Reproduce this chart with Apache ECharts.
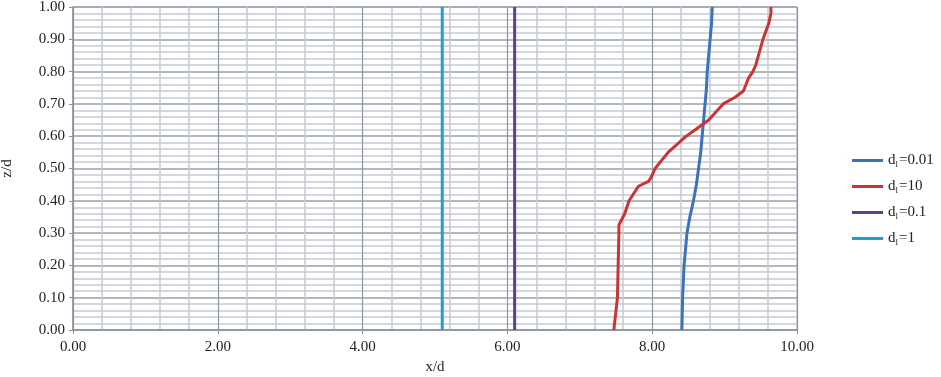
<!DOCTYPE html>
<html>
<head>
<meta charset="utf-8">
<script src="https://cdn.jsdelivr.net/npm/echarts@6/dist/echarts.min.js"></script>
<style>
  html, body { margin: 0; padding: 0; background: #fff; }
  #chart { width: 941px; height: 377px; }
</style>
</head>
<body>
<div id="chart"></div>
<script>
// series labels (subscript part kept separately)
const seriesValues = ['0.01', '10', '0.1', '1'];
const seriesColors = ['#3a73ba', '#cc3333', '#5c3f8e', '#1e9fc9'];

// d=0.01 profile (x/d, z/d)
const x001 = [8.41, 8.42, 8.44, 8.46, 8.48, 8.52, 8.57, 8.61, 8.64, 8.67, 8.69, 8.71, 8.73, 8.75, 8.76, 8.78, 8.80, 8.82, 8.83];
const z001 = [0.00, 0.10, 0.20, 0.25, 0.30, 0.35, 0.40, 0.45, 0.50, 0.55, 0.60, 0.65, 0.70, 0.75, 0.80, 0.85, 0.90, 0.95, 1.00];

// d=10 profile
const x10 = [7.47, 7.52, 7.53, 7.54, 7.54, 7.62, 7.68, 7.81, 7.95, 7.99, 8.04, 8.22, 8.47, 8.78, 8.98, 9.14, 9.26, 9.33, 9.39, 9.43, 9.53, 9.61, 9.64, 9.64];
const z10 = [0.00, 0.10, 0.20, 0.30, 0.325, 0.36, 0.40, 0.445, 0.46, 0.475, 0.50, 0.55, 0.60, 0.65, 0.70, 0.72, 0.74, 0.78, 0.80, 0.82, 0.90, 0.95, 0.98, 1.00];

// d=0.1 and d=1 are straight vertical lines
const x01 = [6.10, 6.10];
const z01 = [0.00, 1.00];
const x1 = [5.10, 5.10];
const z1 = [0.00, 1.00];

const xs = [x001, x10, x01, x1];
const zs = [z001, z10, z01, z1];

const font = 'Liberation Serif';
const names = seriesValues.map(v => 'd=' + v);

const chart = echarts.init(document.getElementById('chart'));

chart.setOption({
  animation: false,
  grid: {
    left: 73,
    right: 144,
    top: 7,
    bottom: 47,
    containLabel: false,
    outerBoundsMode: 'none',
    show: true,
    borderColor: '#9aa1aa',
    borderWidth: 1
  },
  legend: {
    orient: 'vertical',
    left: 847,
    top: 148,
    itemGap: 10,
    itemWidth: 31,
    itemHeight: 3,
    icon: 'rect',
    data: names,
    formatter: name => '{d|d}{s|l}{d|' + name.slice(1) + '}',
    textStyle: {
      rich: {
        d: { fontFamily: font, fontSize: 15, color: '#222' },
        s: { fontFamily: font, fontSize: 9, color: '#222', verticalAlign: 'bottom', padding: [8, 1, 0, 0] }
      }
    }
  },
  xAxis: {
    type: 'value',
    min: 0,
    max: 10,
    interval: 2,
    name: 'x/d',
    nameLocation: 'middle',
    nameGap: 30,
    nameTextStyle: { fontFamily: font, fontSize: 15, color: '#222' },
    axisLine: { show: true, lineStyle: { color: '#8a929c', width: 1.5 } },
    axisTick: { show: true, length: 4, lineStyle: { color: '#8a929c' } },
    axisLabel: {
      fontFamily: font,
      fontSize: 15,
      color: '#222',
      margin: 10,
      formatter: v => v.toFixed(2)
    },
    splitLine: { show: true, lineStyle: { color: '#8f969f', width: 1.2 } },
    minorTick: { show: false, splitNumber: 5 },
    minorSplitLine: { show: true, lineStyle: { color: '#c6cad2', width: 1.5 } }
  },
  yAxis: {
    type: 'value',
    min: 0,
    max: 1,
    interval: 0.1,
    name: 'z/d',
    nameLocation: 'middle',
    nameGap: 58,
    nameTextStyle: { fontFamily: font, fontSize: 15, color: '#222' },
    axisLine: { show: true, lineStyle: { color: '#8a929c', width: 1.5 } },
    axisTick: { show: true, length: 4, lineStyle: { color: '#8a929c' } },
    axisLabel: {
      fontFamily: font,
      fontSize: 15,
      color: '#222',
      margin: 8,
      formatter: v => v.toFixed(2)
    },
    splitLine: { show: true, lineStyle: { color: '#9aa0a8', width: 1.5 } },
    minorTick: { show: false, splitNumber: 5 },
    minorSplitLine: { show: true, lineStyle: { color: '#c6cad2', width: 1.5 } }
  },
  series: names.map((n, i) => ({
    name: n,
    type: 'line',
    showSymbol: false,
    symbol: 'none',
    data: xs[i].map((x, k) => [x, zs[i][k]]),
    lineStyle: { color: seriesColors[i], width: 3 },
    itemStyle: { color: seriesColors[i] }
  }))
});
</script>
</body>
</html>
